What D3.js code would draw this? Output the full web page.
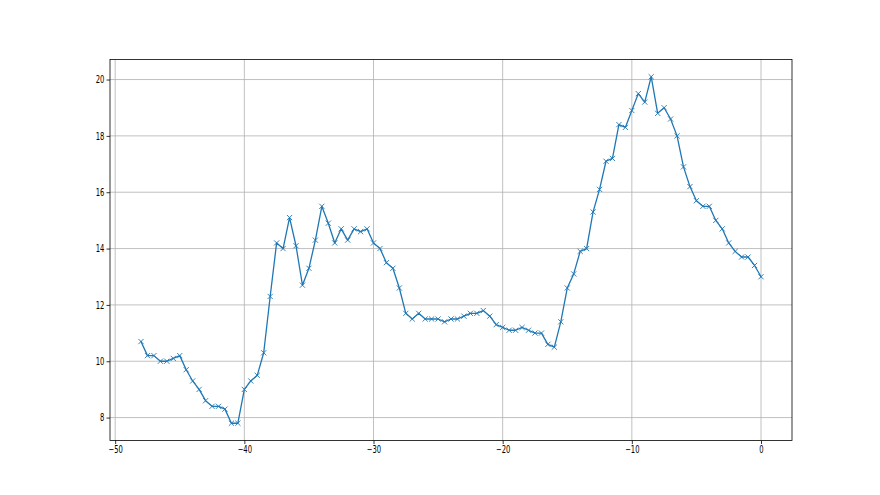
<!DOCTYPE html>
<html><head><meta charset="utf-8">
<script src="https://cdn.jsdelivr.net/npm/d3@7"></script>
<style>body{margin:0;background:#fff}svg{display:block}text{font-family:"DejaVu Sans",sans-serif;font-size:10px;fill:#000}</style>
</head><body>
<svg id="chart" width="880" height="495"></svg>
<script>
const xStart = -48, xStep = 0.5;
const values = [
10.7,10.2,10.2,10.0,10.0,10.1,10.2,9.7,9.3,9.0,8.6,8.4,8.4,8.3,7.8,7.8,9.0,9.3,9.5,10.3,12.3,
14.2,14.0,15.1,14.1,12.7,13.3,14.3,15.5,14.9,14.2,14.7,14.3,14.7,14.6,14.7,14.2,14.0,13.5,13.3,12.6,11.7,
11.5,11.7,11.5,11.5,11.5,11.4,11.5,11.5,11.6,11.7,11.7,11.8,11.6,11.3,11.2,11.1,11.1,11.2,11.1,11.0,11.0,10.6,10.5,11.4,12.6,
13.1,13.9,14.0,15.3,16.1,17.1,17.2,18.4,18.3,18.9,19.5,19.2,20.1,18.8,19.0,
18.6,18.0,16.9,16.2,15.7,15.5,15.5,15.0,14.7,14.2,13.9,13.7,13.7,13.4,13.0
];
const xs = values.map((v,i) => xStart + i*xStep);
const xTicks = [-50,-40,-30,-20,-10,0];
const yTicks = [8,10,12,14,16,18,20];

const W=880,H=495;
const L=110,R=792,T=59.4,B=440.55;
const svg=d3.select("#chart");
const xmin=d3.min(xs),xmax=d3.max(xs),ymin=d3.min(values),ymax=d3.max(values);
const xm=(xmax-xmin)*0.05, ym=(ymax-ymin)*0.05;
const x=d3.scaleLinear().domain([xmin-xm,xmax+xm]).range([L,R]);
const y=d3.scaleLinear().domain([ymin-ym,ymax+ym]).range([B,T]);
const fmt=d3.format("d");

// grid
const g=svg.append("g");
g.selectAll(".gx").data(xTicks).enter().append("line")
 .attr("x1",d=>x(d)).attr("x2",d=>x(d)).attr("y1",T).attr("y2",B)
 .attr("stroke","#b0b0b0").attr("stroke-width",0.8);
g.selectAll(".gy").data(yTicks).enter().append("line")
 .attr("y1",d=>y(d)).attr("y2",d=>y(d)).attr("x1",L).attr("x2",R)
 .attr("stroke","#b0b0b0").attr("stroke-width",0.8);

// line
const line=d3.line().x((d,i)=>x(xs[i])).y(d=>y(d));
svg.append("path").datum(values).attr("d",line).attr("fill","none")
 .attr("stroke","#1f77b4").attr("stroke-width",1.3).attr("stroke-linejoin","round").attr("stroke-linecap","square");
// markers
const s=2.6;
svg.append("g").selectAll("path").data(values).enter().append("path")
 .attr("d",(d,i)=>{const cx=x(xs[i]),cy=y(d);return `M${cx-s},${cy-s}L${cx+s},${cy+s}M${cx-s},${cy+s}L${cx+s},${cy-s}`;})
 .attr("stroke","#1f77b4").attr("stroke-width",0.9);

// axes
const xAxis=d3.axisBottom(x).tickValues(xTicks).tickFormat(fmt).tickSize(3.5).tickPadding(1.6);
const yAxis=d3.axisLeft(y).tickValues(yTicks).tickFormat(fmt).tickSize(3.5).tickPadding(2.2);
const ax=svg.append("g").attr("transform",`translate(0,${B})`).call(xAxis);
const ay=svg.append("g").attr("transform",`translate(${L},0)`).call(yAxis);
[ax,ay].forEach(a=>{a.select(".domain").remove();a.selectAll("line").attr("stroke","#000").attr("stroke-width",0.8);
 a.selectAll("text").attr("font-family","DejaVu Sans").attr("font-size",10).attr("fill","#333")
  .attr("transform",function(){const tx=+d3.select(this).attr("x")||0;return `translate(${tx},0) scale(0.68,1) translate(${-tx},0)`;});});
// frame
svg.append("rect").attr("x",L).attr("y",T).attr("width",R-L).attr("height",B-T)
 .attr("fill","none").attr("stroke","#000").attr("stroke-width",0.8);
</script>
</body></html>
